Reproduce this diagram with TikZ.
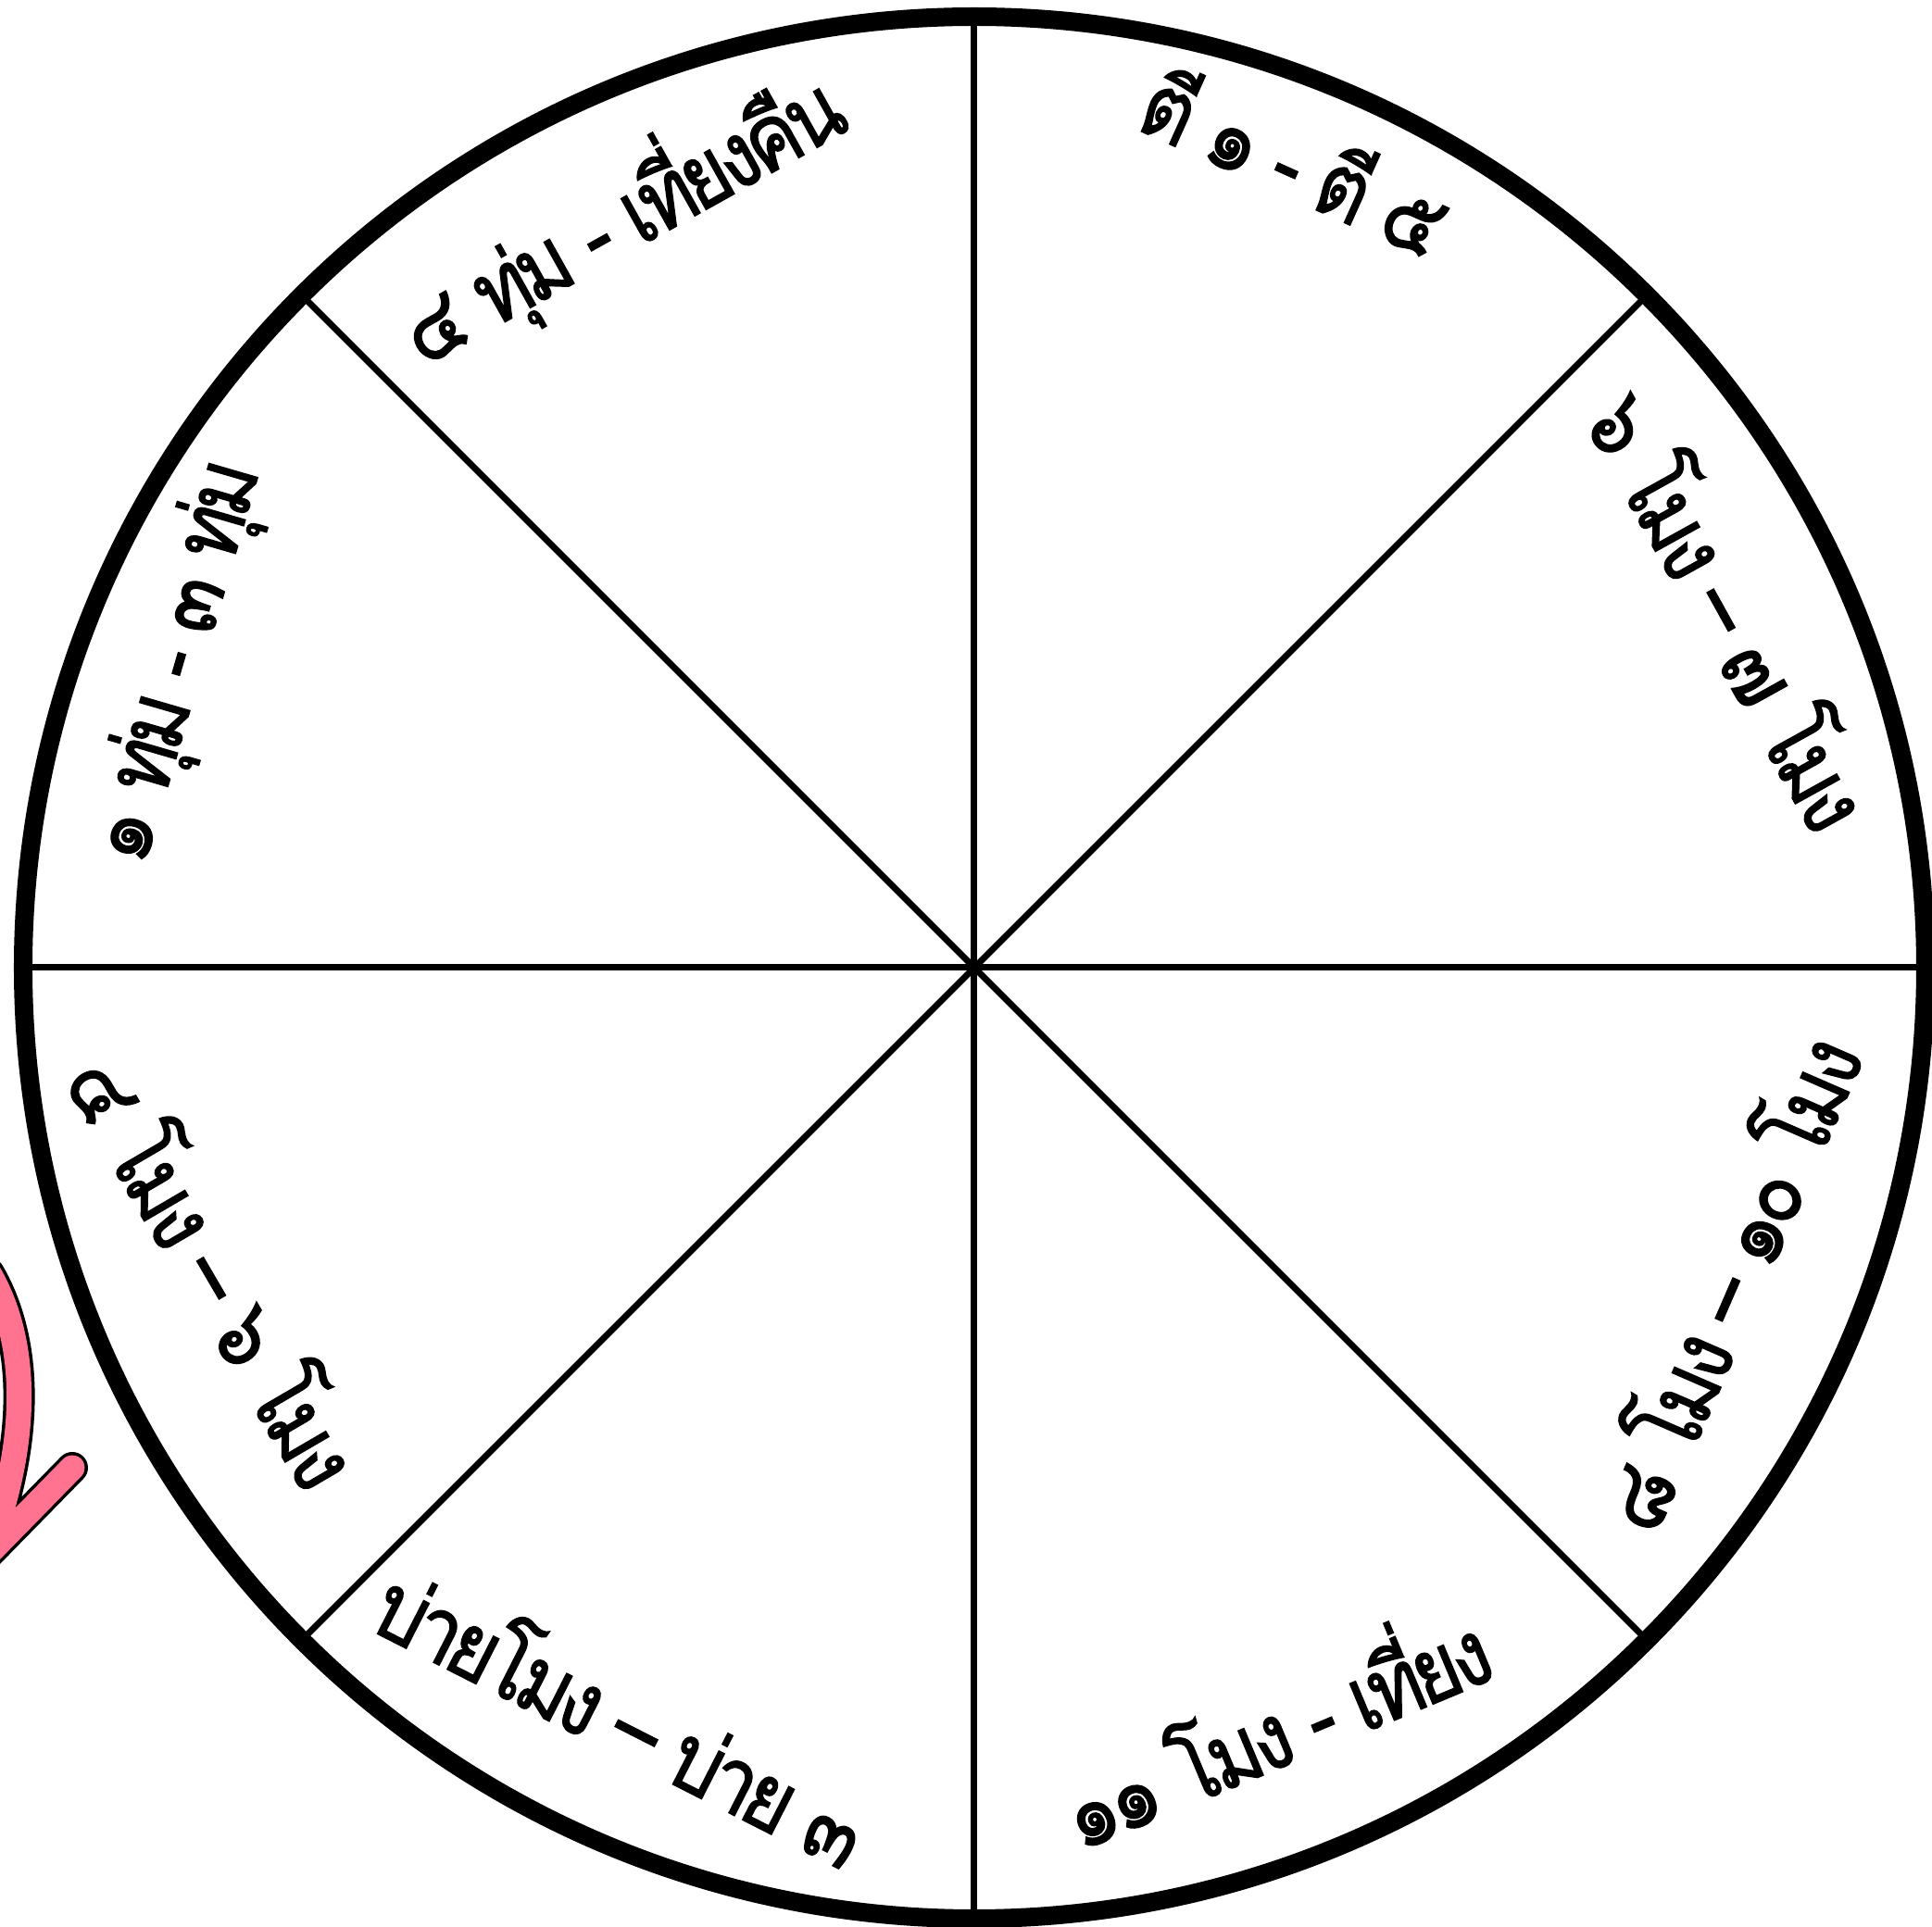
\documentclass[tikz,border=0pt]{standalone}
\usepackage{fontspec}
\newfontfamily\thaifont[Script=Thai,LetterSpace=-7,FakeStretch=0.88,FakeBold=1.3]{Loma}
\definecolor{arrowpink}{RGB}{255,115,145}
\tikzset{rim/.style={line width=0.2cm},
  spoke/.style={line width=0.07cm},
  hour/.style={font=\thaifont\fontsize{28}{30}\selectfont,inner sep=0pt,anchor=mid},
  swoosh/.style={line width=0.34cm,line cap=round,line join=round}}

\begin{document}
\begin{tikzpicture}
\useasboundingbox (-10.52,-10.36) rectangle (10.34,10.45);
\coordinate (hub) at (0,0);
\foreach \a in {0,45,...,315}{
  \coordinate (edge\a) at (\a:10.2);
  \draw[spoke] (hub) -- (edge\a);
}
\draw[rim] (hub) circle (10.27);
% hour labels, one per sector
\node[hour,rotate=29.2] (night) at (-3.67,7.84) {๔ ทุ่ม - เที่ยงคืน};
\node[hour,rotate=-24.2] (dawn) at (3.345,8.42) {ตี ๑ - ตี ๕};
\node[hour,rotate=-61] (morning) at (7.88,3.70) {๖ โมง – ๗ โมง};
\node[hour,rotate=66.5] (forenoon) at (8.42,-3.52) {๘ โมง – ๑๐ โมง};
\node[hour,rotate=22.7] (noon) at (3.38,-8.53) {๑๑ โมง - เที่ยง};
\node[hour,rotate=-27] (afternoon) at (-3.95,-8.38) {บ่ายโมง – บ่าย ๓};
\node[hour,rotate=-59.7] (evening) at (-8.47,-3.43) {๔ โมง – ๖ โมง};
\node[hour,rotate=73.8] (dusk) at (-8.41,3.25) {๑ ทุ่ม - ๓ ทุ่ม};
% pink arrow, cut by the page edge
\coordinate (swtop) at (-10.64,-3.3);
\coordinate (swtip) at (-10.67,-6.35);
\coordinate (swbarb) at (-9.74,-5.4);
\draw[swoosh] (swtop) .. controls (-10.2,-4.05) and (-10.2,-5.15) .. (swtip) -- (swbarb);
\draw[swoosh,arrowpink,line width=0.27cm] (swtop) .. controls (-10.2,-4.05) and (-10.2,-5.15) .. (swtip) -- (swbarb);
\end{tikzpicture}
\end{document}
